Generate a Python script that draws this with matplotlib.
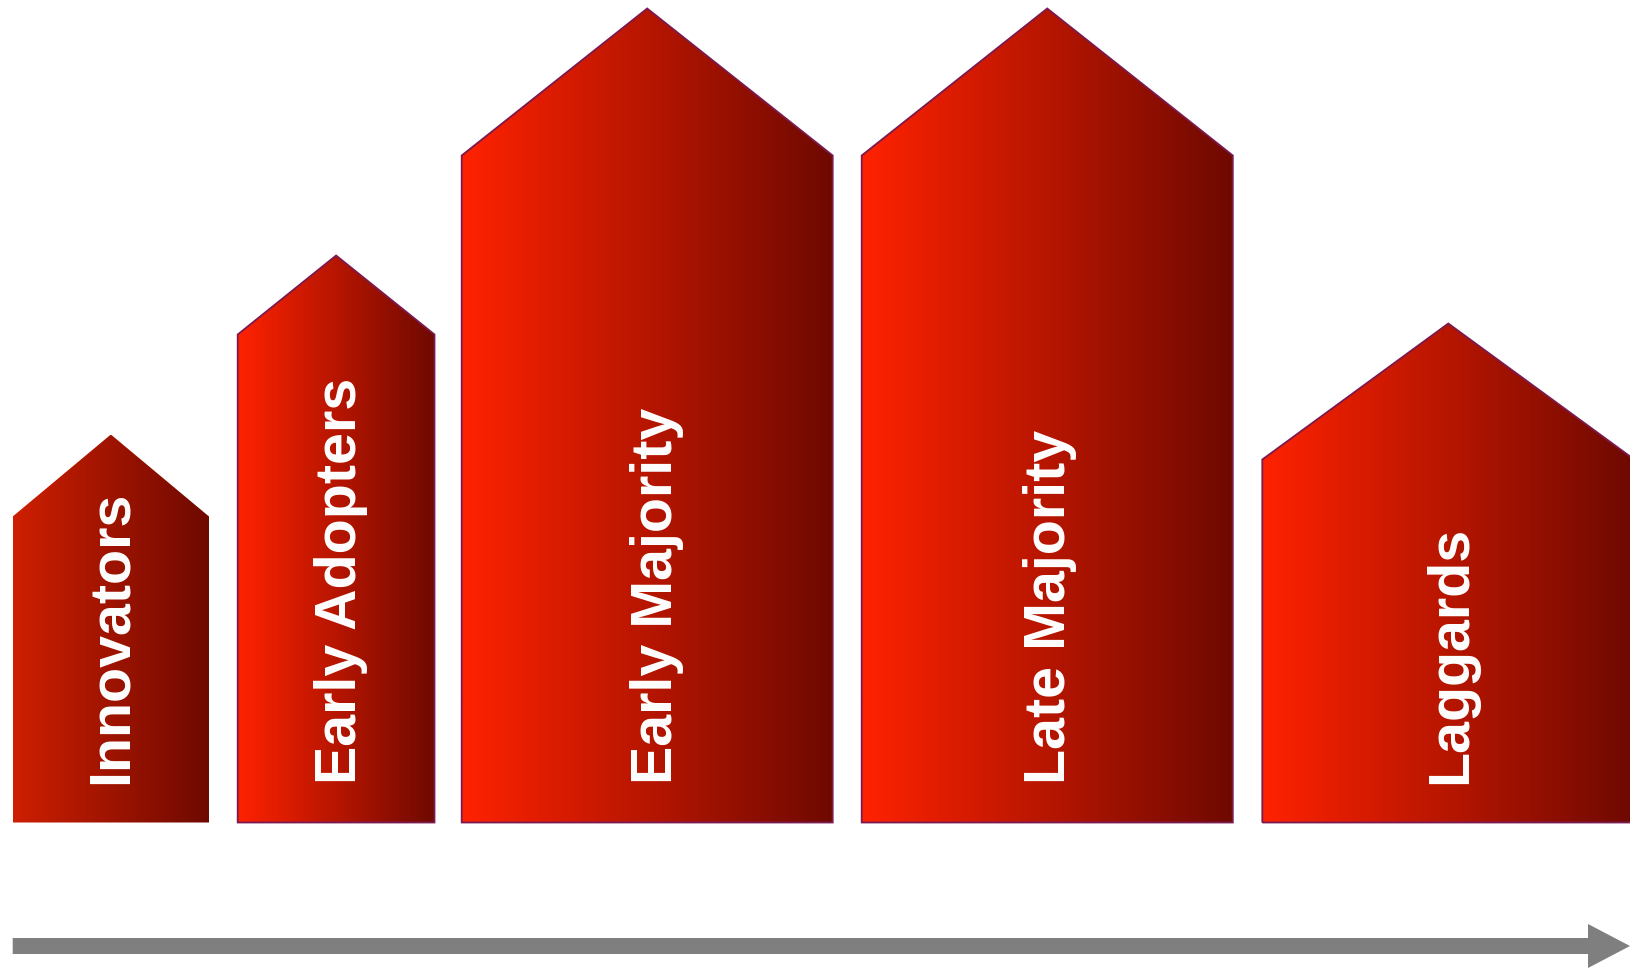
import numpy as np
import matplotlib
matplotlib.use("Agg")
import matplotlib.pyplot as plt
from matplotlib.patches import Polygon, FancyArrow
from matplotlib.colors import LinearSegmentedColormap

# ---- data (pixel-like units, baseline = 0) ----
categories = ["Innovators", "Early Adopters", "Early Majority", "Late Majority", "Laggards"]
bar_left = [12.7, 237.7, 461.7, 861.7, 1262.3]
bar_width = [196.3, 196.8, 371.0, 371.1, 372.0]
shoulder_height = [306, 488, 667, 667, 363]
peak_height = [388, 567, 814, 814, 499]

# ---- styles ----
left_colors = ["#CE1F00", "#FF2200", "#FF2200", "#FF2200", "#FF2200"]
right_colors = ["#6E0900", "#6E0900", "#6E0900", "#6E0900", "#6E0900"]
edge_colors = ["none", "#7A1A50", "#7A1A50", "#7A1A50", "#7A1A50"]
label_dx = [-5, -1, 4, -3, -3]

W, H = 1630, 970
base_px = 823.5

fig = plt.figure(figsize=(W / 100, H / 100), dpi=100)
ax = fig.add_axes([0, 0, 1, 1])
ax.set_axis_off()

for i, cat in enumerate(categories):
    x0 = bar_left[i]
    x1 = x0 + bar_width[i]
    xc = (x0 + x1) / 2
    sh = shoulder_height[i]
    pk = peak_height[i]
    verts = [(x0, 0), (x0, sh), (xc, pk), (x1, sh), (x1, 0)]
    cmap = LinearSegmentedColormap.from_list("g%d" % i, [left_colors[i], right_colors[i]])
    grad = np.linspace(0, 1, 256).reshape(1, -1)
    poly = Polygon(verts, closed=True, facecolor="none", edgecolor="none")
    ax.add_patch(poly)
    im = ax.imshow(grad, extent=[x0, x1, 0, pk], aspect="auto", cmap=cmap,
                   interpolation="bilinear", zorder=1)
    im.set_clip_path(poly)
    if edge_colors[i] != "none":
        outline = Polygon(verts, closed=True, facecolor="none",
                          edgecolor=edge_colors[i], linewidth=1.3, zorder=2)
        ax.add_patch(outline)
    ax.text(xc + 20.5 + label_dx[i], 39, cat, rotation=90, rotation_mode="anchor",
            ha="left", va="baseline", color="white", fontsize=41.3,
            fontfamily=["Liberation Sans", "DejaVu Sans"], fontweight="bold",
            zorder=3)

# bottom arrow
arrow_y = base_px - 947
ax.add_patch(FancyArrow(12.7, arrow_y, 1630 - 12.7, 0, width=16, head_width=44,
                        head_length=42, length_includes_head=True,
                        color="#7F7F7F", linewidth=0, zorder=2))

ax.set_xlim(0, W)
ax.set_ylim(base_px - H, base_px)

fig.savefig("out.png", dpi=100, facecolor="white")
